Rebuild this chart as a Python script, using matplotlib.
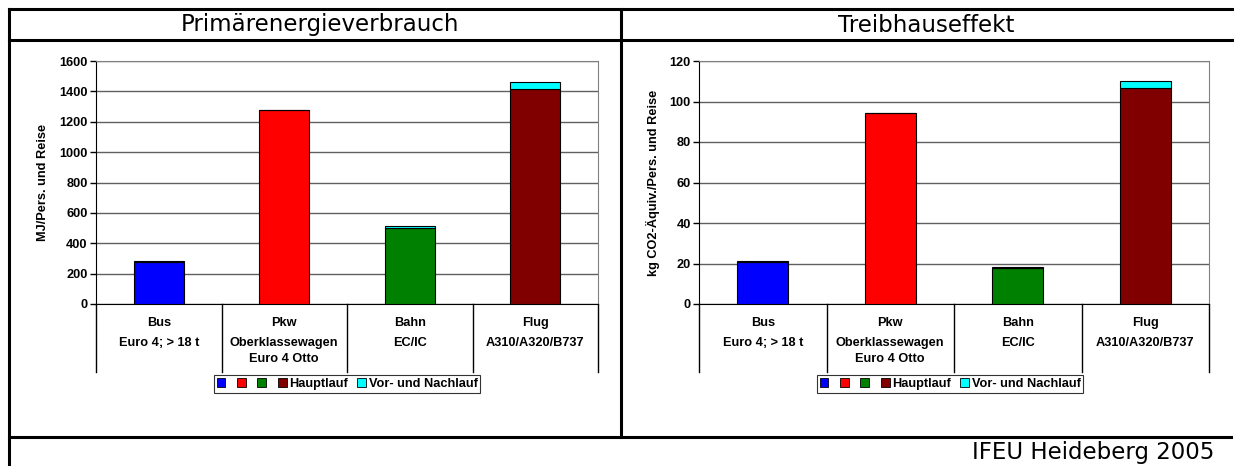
import matplotlib.pyplot as plt
from matplotlib.patches import Patch
from matplotlib.lines import Line2D
import matplotlib.transforms as mtransforms

# Data
categories = ["Bus", "Pkw", "Bahn", "Flug"]
subtitles = ["Euro 4; > 18 t", "Oberklassewagen\nEuro 4 Otto", "EC/IC", "A310/A320/B737"]
bar_colors = ["#0000FF", "#FF0000", "#008000", "#800000"]
vor_color = "#00FFFF"

energy_haupt = [275, 1280, 502, 1415]
energy_vor = [10, 0, 13, 50]
ghg_haupt = [20.6, 94.2, 17.7, 106.8]
ghg_vor = [0.6, 0, 0.7, 3.4]

W, H = 1234, 466
fig = plt.figure(figsize=(W / 100, H / 100), dpi=100)
plt.rcParams["font.family"] = ["Liberation Sans", "DejaVu Sans"]
SMALL = 9.2


def fx(px):
    return px / W


def fy(py):
    return 1 - py / H


# table frame
frame = dict(color="black", lw=2.2, transform=fig.transFigure, clip_on=False)
fig.add_artist(Line2D([fx(9), 1], [fy(9), fy(9)], **frame))
fig.add_artist(Line2D([fx(9), 1], [fy(40), fy(40)], **frame))
fig.add_artist(Line2D([fx(9), fx(1231)], [fy(437), fy(437)], **frame))
fig.add_artist(Line2D([fx(9), fx(9)], [fy(9), 0], **frame))
fig.add_artist(Line2D([fx(621), fx(621)], [fy(9), fy(437)], **frame))

fig.text(fx(320), fy(25), "Primärenergieverbrauch", ha="center", va="center",
         fontsize=16.5, family="DejaVu Sans")
fig.text(fx(926), fy(25), "Treibhauseffekt", ha="center", va="center",
         fontsize=16.5, family="DejaVu Sans")
fig.text(fx(1214), fy(453), "IFEU Heideberg 2005", ha="right", va="center",
         fontsize=16.5, family="DejaVu Sans")


def panel(x0, x1, haupt, vor, ymax, ystep, ylabel, legend_x):
    ax = fig.add_axes([fx(x0), fy(304), fx(x1 - x0), (304 - 61) / H])
    pos = range(len(categories))
    ax.bar(pos, haupt, width=0.4, color=bar_colors, edgecolor="black",
           linewidth=0.8, zorder=3)
    ax.bar(pos, vor, bottom=haupt, width=0.4, color=vor_color,
           edgecolor="black", linewidth=0.8, zorder=3)
    ax.set_xlim(-0.5, len(categories) - 0.5)
    ax.set_ylim(0, ymax)
    ax.set_yticks([i * ystep for i in range(int(ymax / ystep) + 1)])
    ax.yaxis.grid(True, color="#606060", lw=1, zorder=0)
    ax.set_xticks([])
    for lab in ax.get_yticklabels():
        lab.set_fontweight("bold")
        lab.set_fontsize(SMALL)
    ax.tick_params(axis="y", length=4, width=1, direction="out", pad=2)
    ax.set_ylabel(ylabel, fontsize=SMALL, fontweight="bold", labelpad=7)
    ax.spines["top"].set_color("#808080")
    ax.spines["right"].set_color("#808080")
    ax.spines["left"].set_color("black")
    ax.spines["bottom"].set_color("black")

    # category table below axis
    trans = mtransforms.blended_transform_factory(ax.transData, ax.transAxes)
    depth = (372 - 304) / 243
    for b in [i - 0.5 for i in range(len(categories) + 1)]:
        ax.plot([b, b], [0, -depth], color="black", lw=1, transform=trans,
                clip_on=False)
    for i, (c, s) in enumerate(zip(categories, subtitles)):
        ax.text(i, -(323 - 304) / 243, c, ha="center", va="center",
                fontsize=SMALL, fontweight="bold", transform=trans)
        ax.text(i, -(337 - 304) / 243, s, ha="center", va="top",
                fontsize=SMALL, fontweight="bold", transform=trans,
                linespacing=1.45)

    handles = [Patch(facecolor=c, edgecolor="black", lw=0.6) for c in bar_colors]
    handles.append(Patch(facecolor=vor_color, edgecolor="black", lw=0.6))
    labels = ["", "", "", "Hauptlauf", "Vor- und Nachlauf"]
    leg = fig.legend(handles, labels, loc="center", ncol=5,
                     bbox_to_anchor=(fx(legend_x), fy(384)),
                     prop={"size": SMALL, "weight": "bold"}, frameon=True,
                     fancybox=False, handlelength=0.7, handleheight=0.7,
                     handletextpad=0.2, columnspacing=0.7, borderpad=0.2,
                     borderaxespad=0)
    leg.get_frame().set_edgecolor("black")
    leg.get_frame().set_linewidth(0.8)
    return ax


panel(96, 598, energy_haupt, energy_vor, 1600, 200, "MJ/Pers. und Reise", 347)
panel(699, 1209, ghg_haupt, ghg_vor, 120, 20, "kg CO2-Äquiv./Pers. und Reise", 950)

fig.savefig("out.png", dpi=100)
